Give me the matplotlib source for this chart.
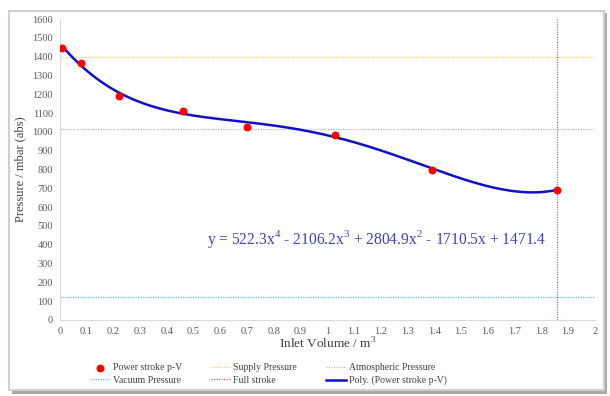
import numpy as np
import matplotlib
matplotlib.use("Agg")
import matplotlib.pyplot as plt
from matplotlib.patches import Rectangle

# power stroke p-V points
volume = [0.01, 0.08, 0.22, 0.46, 0.70, 1.03, 1.39, 1.86]
pressure = [1445, 1365, 1190, 1110, 1025, 982, 795, 690]

# Excel trendline coefficients (highest power first)
poly_coef = [522.3, -2106.2, 2804.9, -1710.5, 1471.4]

supply_p = 1400
atmos_p = 1013
vacuum_p = 120
full_stroke = 1.86

xticks = np.round(np.arange(0, 2.01, 0.1), 1)
xtick_labels = ["0", "0.1", "0.2", "0.3", "0.4", "0.5", "0.6", "0.7", "0.8", "0.9", "1",
                "1.1", "1.2", "1.3", "1.4", "1.5", "1.6", "1.7", "1.8", "1.9", "2"]
yticks = list(range(0, 1601, 100))

plt.rcParams['font.family'] = ['Liberation Serif', 'DejaVu Serif']
plt.rcParams['mathtext.fontset'] = 'custom'
plt.rcParams['mathtext.rm'] = 'Liberation Serif'

fig = plt.figure(figsize=(6.1, 3.96), dpi=100)

# chart frame with shadow
fig.add_artist(Rectangle((0.019, 0.006), 0.976, 0.96, transform=fig.transFigure,
                         fc="#a8a8a8", ec="none", zorder=-3))
fig.add_artist(Rectangle((0.014, 0.016), 0.976, 0.956, transform=fig.transFigure,
                         fc="white", ec="#cfcfcf", lw=1.5, zorder=-2))

ax = fig.add_axes([0.098, 0.192, 0.877, 0.76])
ax.set_facecolor("none")

h_pts = ax.scatter(volume, pressure, color="#ff0000", s=22, zorder=5)
h_sup, = ax.plot([0, 2], [supply_p, supply_p], color="#f0d060", lw=0.9, ls=(0, (1, 1)))
h_atm, = ax.plot([0, 2], [atmos_p, atmos_p], color="#b8b8b8", lw=0.9, ls=(0, (1, 1)))
h_vac, = ax.plot([0, 2], [vacuum_p, vacuum_p], color="#60c8d8", lw=0.9, ls=(0, (1, 1)))
h_full, = ax.plot([full_stroke, full_stroke], [0, 1600], color="#d06060", lw=0.9, ls=(0, (1, 1)))

xs = np.linspace(volume[0], volume[-1], 300)
h_poly, = ax.plot(xs, np.polyval(poly_coef, xs), color="#1010cc", lw=1.8, zorder=4)

ax.text(0.55, 430, "y = 522.3x$^4$ - 2106.2x$^3$ + 2804.9x$^2$ - 1710.5x + 1471.4",
        color="#4040c0", fontsize=11.2, va="center", ha="left")

ax.set_xlim(0, 2)
ax.set_ylim(0, 1600)
ax.set_xticks(xticks)
ax.set_xticklabels(xtick_labels)
ax.set_yticks(yticks)
ax.tick_params(length=0, labelsize=7.5, colors="#595959", pad=5)
for s in ["top", "right"]:
    ax.spines[s].set_visible(False)
for s in ["left", "bottom"]:
    ax.spines[s].set_color("#d9d9d9")
    ax.spines[s].set_linewidth(0.8)

ax.set_xlabel("Inlet Volume / m$^3$", fontsize=9.5, color="#404040", labelpad=0)
ax.set_ylabel("Pressure / mbar (abs)", fontsize=9, color="#404040", labelpad=4)

# legend filled column-wise: rows [pv, supply, atmos], [vacuum, full, poly]
handles = [h_pts, h_vac, h_sup, h_full, h_atm, h_poly]
labels = ["Power stroke p-V", "Vacuum Pressure", "Supply Pressure", "Full stroke",
          "Atmospheric Pressure", "Poly. (Power stroke p-V)"]
fig.legend(handles, labels, ncol=3, loc="center", bbox_to_anchor=(0.44, 0.055),
           frameon=False, fontsize=7, labelcolor="#404040", handlelength=2.0,
           columnspacing=3.0, handletextpad=0.3, labelspacing=0.35)

fig.savefig("out.png", dpi=100)
